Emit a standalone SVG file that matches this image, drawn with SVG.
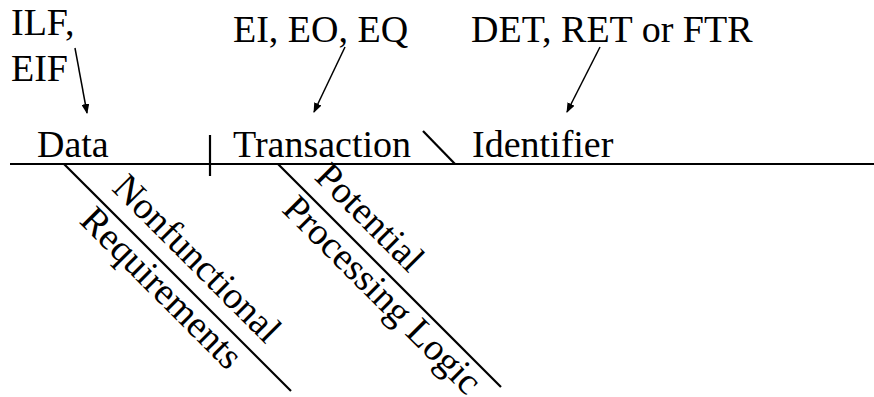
<svg xmlns="http://www.w3.org/2000/svg" width="874" height="397" viewBox="0 0 874 397">
<defs>
<style>
.t{font-family:'Liberation Serif','Times New Roman',serif;font-size:38px;fill:#000}
.bone{stroke:#000;stroke-width:2.2;fill:none}
.arrow{stroke:#000;stroke-width:1.5;fill:none;marker-end:url(#ah)}
</style>
<marker id="ah" markerWidth="10" markerHeight="8" refX="9" refY="4" orient="auto" markerUnits="userSpaceOnUse">
<path d="M0,0 L10,4 L0,8 z" fill="#000"/>
</marker>
</defs>
<rect width="874" height="397" fill="#fff"/>
<g id="connectors">
<line class="bone" x1="10" y1="164" x2="874" y2="164"/>
<line class="bone" x1="210" y1="135" x2="210" y2="176"/>
<line class="bone" x1="423" y1="131" x2="455" y2="164"/>
<line class="bone" x1="64" y1="164" x2="291" y2="391"/>
<line class="bone" x1="278" y1="164" x2="501" y2="387"/>
<line class="arrow" x1="75" y1="48" x2="87" y2="113"/>
<line class="arrow" x1="345" y1="47" x2="314" y2="112"/>
<line class="arrow" x1="600" y1="47" x2="567" y2="112"/>
</g>
<g class="t">
<g id="ilf-eif"><text x="11" y="35">ILF,</text><text x="11" y="81">EIF</text></g>
<g id="ei-eo-eq"><text x="233" y="42">EI, EO, EQ</text></g>
<g id="det-ret-ftr"><text x="471" y="42">DET, RET or FTR</text></g>
<g id="data"><text x="37" y="157">Data</text></g>
<g id="transaction"><text x="233" y="157">Transaction</text></g>
<g id="identifier"><text x="472" y="157">Identifier</text></g>
<g id="nonfunctional" transform="translate(64,164) rotate(45)"><text x="51" y="-15">Nonfunctional</text><text x="51" y="31">Requirements</text></g>
<g id="potential" transform="translate(278,164) rotate(45)"><text x="35" y="-15">Potential</text><text x="35" y="31">Processing Logic</text></g>
</g>
</svg>
